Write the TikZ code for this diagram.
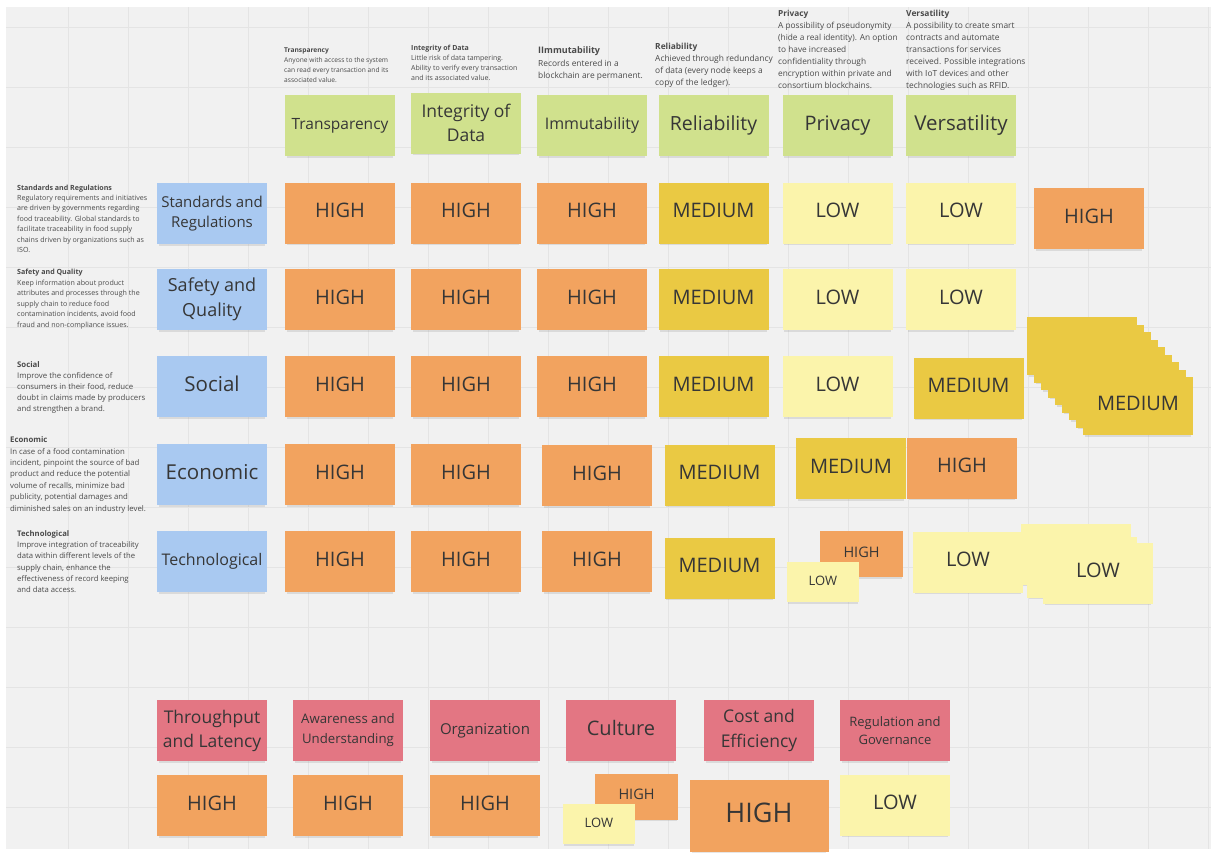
\documentclass[tikz,border=0pt]{standalone}
\usepackage{fontspec}
\setmainfont{Open Sans}
\usetikzlibrary{shadows}

\definecolor{paper}{HTML}{F1F1F1}
\definecolor{gridc}{HTML}{E4E4E4}
\definecolor{grn}{HTML}{D0E18D}
\definecolor{blu}{HTML}{A9C9F1}
\definecolor{orng}{HTML}{F2A35F}
\definecolor{medy}{HTML}{EAC943}
\definecolor{lowy}{HTML}{FBF4AB}
\definecolor{pnk}{HTML}{E37683}
\definecolor{ink}{HTML}{363636}
\definecolor{descink}{HTML}{4A4A4A}

\newcommand\fsz[2]{\fontsize{#1}{#2}\selectfont}

\tikzset{
  sticky/.style={rectangle, inner sep=0pt, align=center, text=ink,
    minimum width=110pt, minimum height=61pt, font=\fsz{20}{24},
    drop shadow={shadow xshift=0pt, shadow yshift=-2.5pt, opacity=0.2, shadow scale=0.97}},
  oneline/.style={text depth=#1},
  oneline/.default=5pt,
  hi/.style={sticky, fill=orng, oneline},
  md/.style={sticky, fill=medy, oneline},
  lo/.style={sticky, fill=lowy, oneline},
  hdr/.style={sticky, fill=grn},
  dim/.style={sticky, fill=blu},
  chal/.style={sticky, fill=pnk},
  small/.style={minimum width=83pt, minimum height=46pt, font=\fsz{14.5}{17}, oneline=3.6pt},
  tiny/.style={minimum width=72pt, minimum height=40pt, font=\fsz{13}{15}, oneline=3.2pt},
  note/.style={anchor=north west, inner sep=0pt, align=left, text=descink},
  gridline/.style={draw=gridc, line width=0.9pt}
}

\begin{document}
\begin{tikzpicture}[x=1pt, y=-1pt]
  \useasboundingbox (0,0) rectangle (1213,852);
  \fill[white] (0,0) rectangle (1213,852);
  \fill[paper] (6,7) rectangle (1211,849);
  \foreach \gx in {68,128,...,1208} \draw[gridline] (\gx,7) -- (\gx,849);
  \foreach \gy in {27,87,...,847} \draw[gridline] (6,\gy) -- (1211,\gy);

  % ---- column descriptions ----
  \node[note, font=\fsz{6.65}{10}] (dTr) at (284,48)
    {\textbf{Transparency}\\Anyone with access to the system\\can read every transaction and its\\associated value.};
  \node[note, font=\fsz{7}{10}] (dIn) at (411,45)
    {\textbf{Integrity of Data}\\Little risk of data tampering.\\Ability to verify every transaction\\and its associated value.};
  \node[note, font=\fsz{8.4}{12.5}] (dIm) at (538,46.5)
    {\textbf{\fsz{9}{12.5}IImmutability}\\Records entered in a\\blockchain are permanent.};
  \node[note, font=\fsz{8.4}{12}] (dRe) at (655,43)
    {\textbf{Reliability}\\Achieved through redundancy\\of data (every node keeps a\\copy of the ledger).};
  \node[note, font=\fsz{8.3}{12}] (dPr) at (778,9.5)
    {\textbf{Privacy}\\A possibility of pseudonymity\\(hide a real identity). An option\\to have increased\\confidentiality through\\encryption within private and\\consortium blockchains.};
  \node[note, font=\fsz{8.4}{12}] (dVe) at (906,9.5)
    {\textbf{Versatility}\\A possibility to create smart\\contracts and automate\\transactions for services\\received. Possible integrations\\with IoT devices and other\\technologies such as RFID.};

  % ---- row descriptions ----
  \node[note, font=\fsz{7.1}{10.4}] (dSR) at (17,184.5)
    {\textbf{Standards and Regulations}\\Regulatory requirements and initiatives\\are driven by governments regarding\\food traceability. Global standards to\\facilitate traceability in food supply\\chains driven by organizations such as\\ISO.};
  \node[note, font=\fsz{7.1}{10.5}] (dSQ) at (17,269)
    {\textbf{Safety and Quality}\\Keep information about product\\attributes and processes through the\\supply chain to reduce food\\contamination incidents, avoid food\\fraud and non-compliance issues.};
  \node[note, font=\fsz{7.8}{11}] (dSo) at (17,361.5)
    {\textbf{Social}\\Improve the confidence of\\consumers in their food, reduce\\doubt in claims made by producers\\and strengthen a brand.};
  \node[note, font=\fsz{7.8}{11.4}] (dEc) at (10,436.5)
    {\textbf{Economic}\\In case of a food contamination\\incident, pinpoint the source of bad\\product and reduce the potential\\volume of recalls, minimize bad\\publicity, potential damages and\\diminished sales on an industry level.};
  \node[note, font=\fsz{7.7}{11.2}] (dTe) at (17,530.5)
    {\textbf{Technological}\\Improve integration of traceability\\data within different levels of the\\supply chain, enhance the\\effectiveness of record keeping\\and data access.};

  % ---- column headers ----
  \node[hdr, font=\fsz{15.5}{20}] (hTr) at (340,125.5) {Transparency};
  \node[hdr, font=\fsz{17.5}{24}] (hIn) at (466,123) {Integrity of\\Data};
  \node[hdr, font=\fsz{16}{20}]   (hIm) at (592,125.5) {Immutability};
  \node[hdr, font=\fsz{19.5}{24}] (hRe) at (713.5,125.5) {Reliability};
  \node[hdr, font=\fsz{20}{24}]   (hPr) at (837.5,125.5) {Privacy};
  \node[hdr, font=\fsz{20.5}{24}] (hVe) at (961,125.5) {Versatility};

  % ---- row headers ----
  \node[dim, font=\fsz{15}{20}]   (rSR) at (212,213.5) {Standards and\\Regulations};
  \node[dim, font=\fsz{18}{25}]   (rSQ) at (212,299.5) {Safety and\\Quality};
  \node[dim, font=\fsz{20.5}{24}, oneline] (rSo) at (212,386.5) {Social};
  \node[dim, font=\fsz{20.5}{24}, oneline] (rEc) at (212,474.5) {Economic};
  \node[dim, font=\fsz{16}{20}]   (rTe) at (212,561.5) {Technological};

  % ---- row 1: standards and regulations ----
  \node[hi] (a1) at (340,213) {HIGH};
  \node[hi] (a2) at (466,213) {HIGH};
  \node[hi] (a3) at (592,213) {HIGH};
  \node[md] (a4) at (713.5,213) {MEDIUM};
  \node[lo] (a5) at (837.5,213) {LOW};
  \node[lo] (a6) at (961,213) {LOW};
  \node[hi] (a7) at (1089,218.5) {HIGH};

  % ---- row 2: safety and quality ----
  \node[hi] (b1) at (340,299.5) {HIGH};
  \node[hi] (b2) at (466,299.5) {HIGH};
  \node[hi] (b3) at (592,299.5) {HIGH};
  \node[md] (b4) at (713.5,299.5) {MEDIUM};
  \node[lo] (b5) at (837.5,299.5) {LOW};
  \node[lo] (b6) at (961,299.5) {LOW};

  % ---- row 3: social ----
  \node[hi] (c1) at (340,386.5) {HIGH};
  \node[hi] (c2) at (466,386.5) {HIGH};
  \node[hi] (c3) at (592,386.5) {HIGH};
  \node[md] (c4) at (713.5,386.5) {MEDIUM};
  \node[lo] (c5) at (837.5,386.5) {LOW};
  \node[md] (c6) at (968.5,388) {MEDIUM};
  % pile of medium notes
  \foreach \i in {0,...,7}
    \node[md, minimum height=58pt] (ms\i) at ({1082+7*\i},{346+7.5*\i}) {};
  \node[md, minimum height=58pt] (ms8) at (1138,406) {MEDIUM};

  % ---- row 4: economic ----
  \node[hi] (e1) at (340,474.5) {HIGH};
  \node[hi] (e2) at (466,474.5) {HIGH};
  \node[hi] (e3) at (597,475.5) {HIGH};
  \node[md] (e4) at (719.5,475) {MEDIUM};
  \node[md] (e5) at (851,468.5) {MEDIUM};
  \node[hi] (e6) at (962,468) {HIGH};

  % ---- row 5: technological ----
  \node[hi] (t1) at (340,561.5) {HIGH};
  \node[hi] (t2) at (466,561.5) {HIGH};
  \node[hi] (t3) at (597,561.5) {HIGH};
  \node[md] (t4) at (719.5,568) {MEDIUM};
  \node[hi, small] (t5h) at (861.5,554) {HIGH};
  \node[lo, tiny]  (t5l) at (823,582) {LOW};
  \node[lo] (t6) at (968,562) {LOW};
  \node[lo] (t7a) at (1076,554) {};
  \node[lo] (t7b) at (1082,567) {};
  \node[lo] (t7c) at (1098,573) {LOW};

  % ---- challenges ----
  \node[chal, font=\fsz{17.5}{24}] (k1) at (212,730.5) {Throughput\\and Latency};
  \node[chal, font=\fsz{13.2}{20}] (k2) at (348,730.5) {Awareness and\\Understanding};
  \node[chal, font=\fsz{15}{20}]   (k3) at (485,730.5) {Organization};
  \node[chal, font=\fsz{20}{24}, oneline] (k4) at (621,730.5) {Culture};
  \node[chal, font=\fsz{17.5}{25}] (k5) at (759,730.5) {Cost and\\Efficiency};
  \node[chal, font=\fsz{13}{18.5}] (k6) at (895,730.5) {Regulation and\\Governance};

  \node[hi] (m1) at (212,805.5) {HIGH};
  \node[hi] (m2) at (348,805.5) {HIGH};
  \node[hi] (m3) at (485,805.5) {HIGH};
  \node[hi, small] (m4h) at (636.5,796.5) {HIGH};
  \node[lo, tiny]  (m4l) at (599,824) {LOW};
  \node[hi, minimum width=139pt, minimum height=72pt, font=\fsz{27}{30}, oneline=6.5pt] (m5) at (759,816) {HIGH};
  \node[lo] (m6) at (895,805) {LOW};
\end{tikzpicture}
\end{document}
